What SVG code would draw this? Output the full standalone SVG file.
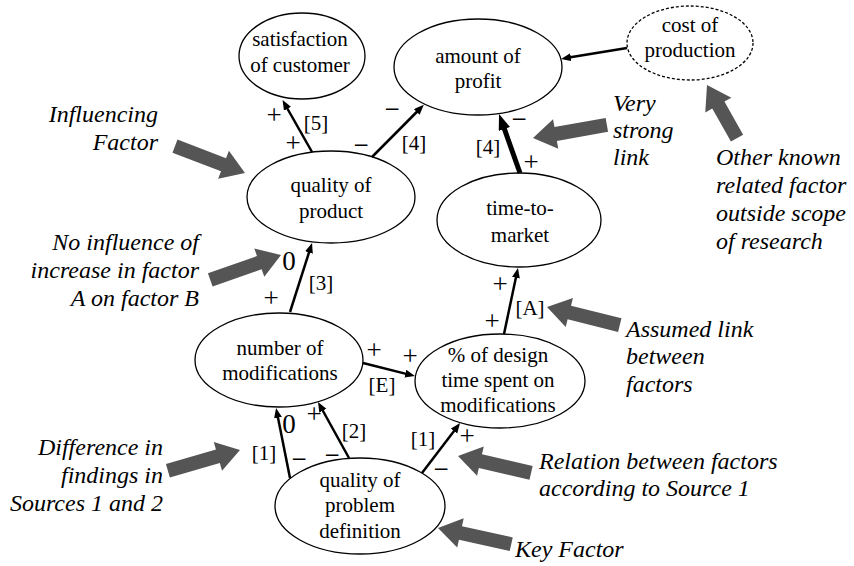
<svg xmlns="http://www.w3.org/2000/svg" width="854" height="566" viewBox="0 0 854 566" font-family="Liberation Serif, Times New Roman, serif">
<style>
  .node ellipse { fill: #fff; stroke: #000; stroke-width: 1.3; }
  .node ellipse.dash { stroke-dasharray: 3 2; }
  .nt { font-size: 21px; text-anchor: middle; fill: #000; }
  .edge { stroke: #000; stroke-width: 2.5; fill: none; marker-end: url(#ah); }
  .edge.thick { stroke-width: 5; marker-end: url(#ahb); }
  .lab { font-size: 21px; text-anchor: middle; fill: #000; }
  .sg { font-size: 27px; }
  .zero { font-size: 27px; }
  .note text { font-size: 24px; font-style: italic; fill: #000; }
  .callout { fill: #555; }
</style>
<defs>
  <marker id="ah" markerUnits="userSpaceOnUse" markerWidth="12" markerHeight="10" refX="2" refY="4" orient="auto">
    <path d="M0,0 L10,4 L0,8 Z" fill="#000"/>
  </marker>
  <marker id="ahb" markerUnits="userSpaceOnUse" markerWidth="18" markerHeight="14" refX="3" refY="6" orient="auto">
    <path d="M0,0 L16,6 L0,12 Z" fill="#000"/>
  </marker>
  <path id="co" d="M-75,-7 L-23,-7 L-23,-15 L0,0 L-23,15 L-23,7 L-75,7 Z"/>
  <path id="cos" d="M-61,-7 L-23,-7 L-23,-15 L0,0 L-23,15 L-23,7 L-61,7 Z"/>
</defs>

<g id="satisfaction" class="node">
  <ellipse cx="302" cy="56" rx="63" ry="43"/>
  <text class="nt" x="300" y="46">satisfaction</text>
  <text class="nt" x="300" y="72">of customer</text>
</g>
<g id="profit" class="node">
  <ellipse cx="478" cy="67" rx="84" ry="48"/>
  <text class="nt" x="478" y="63">amount of</text>
  <text class="nt" x="478" y="88">profit</text>
</g>
<g id="cost" class="node">
  <ellipse class="dash" cx="690" cy="43" rx="63" ry="37"/>
  <text class="nt" x="690" y="32">cost of</text>
  <text class="nt" x="690" y="57">production</text>
</g>
<g id="product" class="node">
  <ellipse cx="331" cy="197" rx="84" ry="46"/>
  <text class="nt" x="331" y="192">quality of</text>
  <text class="nt" x="331" y="218">product</text>
</g>
<g id="ttm" class="node">
  <ellipse cx="519" cy="220" rx="82" ry="47"/>
  <text class="nt" x="520" y="215">time-to-</text>
  <text class="nt" x="520" y="242">market</text>
</g>
<g id="nmod" class="node">
  <ellipse cx="279" cy="360" rx="84" ry="47"/>
  <text class="nt" x="280" y="355">number of</text>
  <text class="nt" x="280" y="380">modifications</text>
</g>
<g id="design" class="node">
  <ellipse cx="500" cy="381" rx="85" ry="47"/>
  <text class="nt" x="498" y="362">% of design</text>
  <text class="nt" x="498" y="387">time spent on</text>
  <text class="nt" x="498" y="412">modifications</text>
</g>
<g id="problem" class="node">
  <ellipse cx="360" cy="506" rx="85" ry="48"/>
  <text class="nt" x="360" y="487">quality of</text>
  <text class="nt" x="360" y="512">problem</text>
  <text class="nt" x="360" y="538">definition</text>
</g>

<g id="connectors">
  <line class="edge" x1="312" y1="152" x2="286.5" y2="107"/>
  <line class="edge" x1="372" y1="157" x2="418.2" y2="110.5"/>
  <line class="edge thick" x1="520" y1="173" x2="503.4" y2="126.2"/>
  <line class="edge" x1="627" y1="48" x2="568.9" y2="57.6"/>
  <line class="edge" x1="290" y1="312" x2="309.6" y2="250.6"/>
  <line class="edge" x1="504" y1="334" x2="516.3" y2="275.8"/>
  <line class="edge" x1="363" y1="363" x2="407.2" y2="374.1"/>
  <line class="edge" x1="290" y1="478" x2="277.6" y2="415.8"/>
  <line class="edge" x1="349" y1="458" x2="321.9" y2="409"/>
  <line class="edge" x1="422" y1="473" x2="455.2" y2="429.4"/>
</g>

<g id="edge-labels">
  <text class="lab sg" x="274" y="124">+</text>
  <text class="lab" x="316" y="130">[5]</text>
  <text class="lab sg" x="293" y="152">+</text>
  <text class="lab sg" x="392" y="118">−</text>
  <text class="lab sg" x="361" y="154">−</text>
  <text class="lab" x="414" y="150">[4]</text>
  <text class="lab sg" x="519" y="128">−</text>
  <text class="lab" x="488" y="154">[4]</text>
  <text class="lab sg" x="531" y="171">+</text>
  <text class="lab zero" x="289" y="270">0</text>
  <text class="lab" x="321" y="290">[3]</text>
  <text class="lab sg" x="271" y="307">+</text>
  <text class="lab sg" x="500" y="293">+</text>
  <text class="lab" x="530" y="315">[A]</text>
  <text class="lab sg" x="492" y="330">+</text>
  <text class="lab sg" x="374" y="359">+</text>
  <text class="lab sg" x="410" y="365">+</text>
  <text class="lab" x="382" y="392">[E]</text>
  <text class="lab zero" x="289" y="433">0</text>
  <text class="lab" x="264" y="460">[1]</text>
  <text class="lab sg" x="299" y="468">−</text>
  <text class="lab sg" x="314" y="423">+</text>
  <text class="lab" x="354" y="438">[2]</text>
  <text class="lab sg" x="332" y="464">−</text>
  <text class="lab" x="423" y="446">[1]</text>
  <text class="lab sg" x="441" y="478">−</text>
  <text class="lab sg" x="467" y="445">+</text>
</g>

<g id="callouts" class="callout">
  <use href="#co" transform="translate(245,173) rotate(21)"/>
  <use href="#co" transform="translate(281,255) rotate(-19.4)"/>
  <use href="#co" transform="translate(240,450) rotate(-16)"/>
  <use href="#co" transform="translate(438,528) rotate(192.5)"/>
  <use href="#co" transform="translate(458,456) rotate(193)"/>
  <use href="#co" transform="translate(547,307) rotate(194)"/>
  <use href="#co" transform="translate(533,138) rotate(170)"/>
  <use href="#cos" transform="translate(707,85) rotate(240.5)"/>
</g>

<g id="notes" class="note">
  <text x="158" y="122" text-anchor="end">Influencing</text>
  <text x="158" y="150" text-anchor="end">Factor</text>
  <text x="199" y="250" text-anchor="end">No influence of</text>
  <text x="199" y="278" text-anchor="end">increase in factor</text>
  <text x="199" y="306" text-anchor="end">A on factor B</text>
  <text x="163" y="455" text-anchor="end">Difference in</text>
  <text x="163" y="483" text-anchor="end">findings in</text>
  <text x="163" y="511" text-anchor="end">Sources 1 and 2</text>
  <text x="515" y="557">Key Factor</text>
  <text x="539" y="469">Relation between factors</text>
  <text x="539" y="496">according to Source 1</text>
  <text x="626" y="337">Assumed link</text>
  <text x="626" y="364">between</text>
  <text x="626" y="392">factors</text>
  <text x="613" y="111">Very</text>
  <text x="613" y="138">strong</text>
  <text x="613" y="165">link</text>
  <text x="716" y="165">Other known</text>
  <text x="716" y="193">related factor</text>
  <text x="716" y="221">outside scope</text>
  <text x="716" y="249">of research</text>
</g>
</svg>
